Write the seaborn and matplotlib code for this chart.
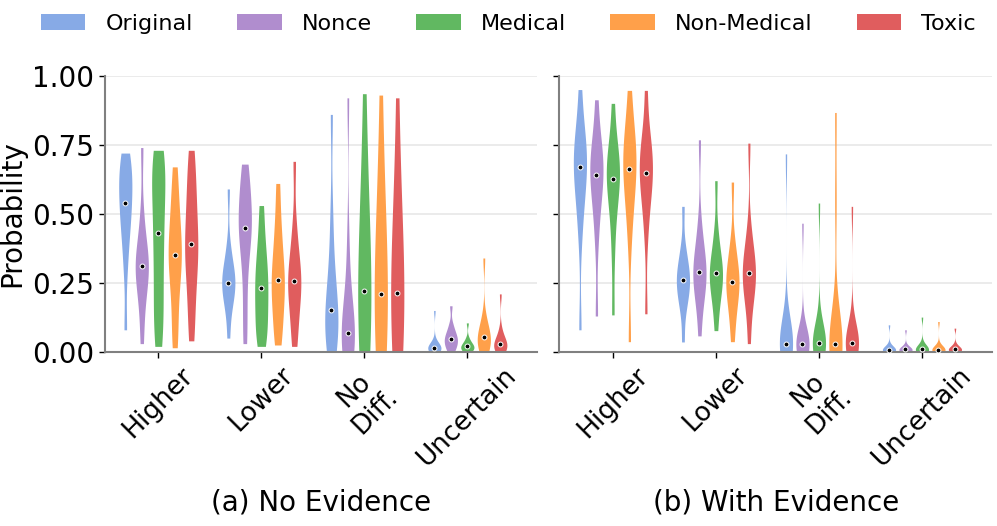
import numpy as np
import pandas as pd
import matplotlib
matplotlib.use("Agg")
import matplotlib.pyplot as plt
import seaborn as sns

groups = ["Original", "Nonce", "Medical", "Non-Medical", "Toxic"]
categories = ["Higher", "Lower", "No\nDiff.", "Uncertain"]
colors = ["#87aae6", "#b08dce", "#61b861", "#ffa04a", "#e05d5e"]

# estimated quantiles (0%, 10%, ..., 100%)
# (a) No Evidence
a_higher = [
    [0.08, 0.30, 0.40, 0.46, 0.50, 0.54, 0.58, 0.62, 0.65, 0.68, 0.72],
    [0.03, 0.14, 0.22, 0.26, 0.29, 0.31, 0.33, 0.36, 0.40, 0.50, 0.74],
    [0.02, 0.10, 0.18, 0.27, 0.36, 0.43, 0.51, 0.58, 0.64, 0.69, 0.73],
    [0.015, 0.10, 0.20, 0.27, 0.32, 0.35, 0.39, 0.44, 0.50, 0.57, 0.67],
    [0.04, 0.14, 0.23, 0.30, 0.35, 0.39, 0.44, 0.50, 0.57, 0.64, 0.73],
]
a_lower = [
    [0.05, 0.15, 0.19, 0.22, 0.24, 0.25, 0.27, 0.29, 0.32, 0.38, 0.59],
    [0.03, 0.15, 0.28, 0.37, 0.42, 0.45, 0.48, 0.52, 0.57, 0.62, 0.68],
    [0.02, 0.06, 0.10, 0.15, 0.19, 0.23, 0.27, 0.31, 0.36, 0.43, 0.53],
    [0.025, 0.08, 0.14, 0.19, 0.23, 0.26, 0.30, 0.35, 0.41, 0.49, 0.61],
    [0.02, 0.08, 0.15, 0.20, 0.23, 0.255, 0.28, 0.32, 0.37, 0.46, 0.69],
]
a_nodiff = [
    [0.0, 0.03, 0.06, 0.09, 0.12, 0.15, 0.19, 0.25, 0.34, 0.50, 0.86],
    [0.0, 0.01, 0.02, 0.04, 0.055, 0.07, 0.10, 0.15, 0.23, 0.40, 0.92],
    [0.0, 0.04, 0.08, 0.12, 0.17, 0.22, 0.29, 0.38, 0.50, 0.66, 0.935],
    [0.0, 0.04, 0.08, 0.12, 0.16, 0.21, 0.28, 0.37, 0.49, 0.65, 0.93],
    [0.0, 0.04, 0.08, 0.12, 0.17, 0.215, 0.28, 0.36, 0.47, 0.63, 0.92],
]
a_uncertain = [
    [0.0, 0.005, 0.008, 0.011, 0.013, 0.015, 0.017, 0.02, 0.025, 0.04, 0.15],
    [0.0, 0.012, 0.022, 0.032, 0.04, 0.047, 0.055, 0.065, 0.078, 0.10, 0.167],
    [0.0, 0.005, 0.009, 0.013, 0.017, 0.02, 0.024, 0.029, 0.036, 0.05, 0.105],
    [0.0, 0.01, 0.02, 0.03, 0.043, 0.053, 0.064, 0.077, 0.095, 0.13, 0.34],
    [0.0, 0.006, 0.012, 0.017, 0.023, 0.028, 0.034, 0.042, 0.054, 0.08, 0.21],
]
# (b) With Evidence
b_higher = [
    [0.08, 0.42, 0.53, 0.59, 0.63, 0.668, 0.70, 0.73, 0.76, 0.81, 0.95],
    [0.13, 0.40, 0.51, 0.57, 0.61, 0.642, 0.67, 0.70, 0.73, 0.78, 0.913],
    [0.134, 0.35, 0.48, 0.55, 0.60, 0.627, 0.655, 0.68, 0.71, 0.76, 0.90],
    [0.037, 0.40, 0.52, 0.58, 0.63, 0.664, 0.70, 0.73, 0.77, 0.82, 0.947],
    [0.138, 0.42, 0.53, 0.58, 0.62, 0.649, 0.68, 0.71, 0.74, 0.79, 0.947],
]
b_lower = [
    [0.036, 0.15, 0.19, 0.22, 0.24, 0.26, 0.28, 0.30, 0.33, 0.38, 0.527],
    [0.058, 0.17, 0.22, 0.25, 0.27, 0.29, 0.31, 0.34, 0.38, 0.46, 0.768],
    [0.077, 0.16, 0.21, 0.24, 0.265, 0.284, 0.305, 0.33, 0.37, 0.44, 0.62],
    [0.037, 0.12, 0.17, 0.21, 0.235, 0.254, 0.275, 0.30, 0.34, 0.40, 0.615],
    [0.03, 0.15, 0.21, 0.245, 0.265, 0.284, 0.305, 0.33, 0.37, 0.44, 0.756],
]
b_nodiff = [
    [0.0, 0.005, 0.01, 0.017, 0.024, 0.03, 0.037, 0.046, 0.06, 0.09, 0.717],
    [0.0, 0.005, 0.01, 0.016, 0.022, 0.028, 0.035, 0.044, 0.057, 0.085, 0.466],
    [0.0, 0.005, 0.01, 0.017, 0.024, 0.031, 0.039, 0.05, 0.066, 0.10, 0.539],
    [0.0, 0.005, 0.01, 0.017, 0.024, 0.03, 0.038, 0.05, 0.07, 0.54, 0.867],
    [0.0, 0.006, 0.012, 0.018, 0.025, 0.032, 0.04, 0.05, 0.067, 0.10, 0.527],
]
b_uncertain = [
    [0.0, 0.002, 0.004, 0.005, 0.007, 0.008, 0.010, 0.012, 0.016, 0.025, 0.098],
    [0.0, 0.002, 0.004, 0.006, 0.008, 0.009, 0.011, 0.013, 0.017, 0.025, 0.08],
    [0.0, 0.002, 0.004, 0.006, 0.008, 0.009, 0.011, 0.014, 0.019, 0.03, 0.126],
    [0.0, 0.002, 0.004, 0.005, 0.007, 0.008, 0.010, 0.012, 0.016, 0.026, 0.11],
    [0.0, 0.002, 0.004, 0.006, 0.008, 0.010, 0.012, 0.014, 0.018, 0.027, 0.086],
]

# violins that look much smoother (wide all the way up) in the original
smooth_violins = [("No\nDiff.", "Medical"), ("No\nDiff.", "Non-Medical"),
                  ("No\nDiff.", "Toxic")]


def to_long(panel):
    rows = []
    for cat, per_group in zip(categories, panel):
        for grp, vals in zip(groups, per_group):
            for v in vals:
                rows.append((cat, grp, v))
    return pd.DataFrame(rows, columns=["category", "group", "prob"])


df_a = to_long([a_higher, a_lower, a_nodiff, a_uncertain])
df_b = to_long([b_higher, b_lower, b_nodiff, b_uncertain])

sns.set_style("ticks")
plt.rcParams["font.family"] = ["DejaVu Sans"]
plt.rcParams["text.color"] = "black"
plt.rcParams["axes.labelcolor"] = "black"
plt.rcParams["xtick.color"] = "black"
plt.rcParams["ytick.color"] = "black"

fig = plt.figure(figsize=(9.97, 5.26), dpi=100)
ax_a = fig.add_axes([0.105, 0.331, 0.434, 0.525])
ax_b = fig.add_axes([0.561, 0.331, 0.434, 0.525], sharey=ax_a)

violin_kws = dict(x="category", y="prob", hue="group", order=categories,
                  hue_order=groups, palette=colors, saturation=1, cut=0,
                  inner=None, density_norm="width", gap=0.2, linewidth=0)

for ax, df, title, smooth in [(ax_a, df_a, "(a) No Evidence", smooth_violins),
                              (ax_b, df_b, "(b) With Evidence", [])]:
    ax.yaxis.grid(True, color="#e8e8e8", linewidth=1.2, zorder=0)
    ax.set_axisbelow(True)
    is_smooth = pd.Series([(c, g) in smooth for c, g in zip(df["category"], df["group"])],
                          index=df.index)
    sns.violinplot(data=df[~is_smooth], bw_adjust=0.7, ax=ax,
                   legend=(ax is ax_a), **violin_kws)
    if is_smooth.any():
        sns.violinplot(data=df[is_smooth], bw_adjust=1.6, ax=ax,
                       legend=False, **violin_kws)
    med = df.groupby(["category", "group"], sort=False)["prob"].median().reset_index()
    sns.stripplot(data=med, x="category", y="prob", hue="group",
                  order=categories, hue_order=groups,
                  palette=["black"] * len(groups), dodge=True, jitter=False,
                  size=3.5, edgecolor="white", linewidth=0.7, legend=False,
                  zorder=5, ax=ax)
    ax.set_xlabel(title, fontsize=20, labelpad=12)
    ax.set_ylabel("")
    ax.tick_params(axis="x", labelsize=19, rotation=45, length=4, width=1)
    ax.tick_params(axis="y", labelsize=20, length=4, width=1)
    ax.set_xlim(-0.52, 3.68)
    for s in ["left", "bottom"]:
        ax.spines[s].set_color("#808080")
        ax.spines[s].set_linewidth(1.5)
    sns.despine(ax=ax)

ax_a.set_ylim(0, 1)
ax_a.set_yticks([0, 0.25, 0.5, 0.75, 1.0])
ax_a.set_yticklabels(["0.00", "0.25", "0.50", "0.75", "1.00"])
ax_a.set_ylabel("Probability", fontsize=20)
ax_b.tick_params(axis="y", labelleft=False)

handles, labels = ax_a.get_legend_handles_labels()
ax_a.get_legend().remove()
fig.legend(handles, labels, loc="upper center", ncol=5, frameon=False,
           fontsize=16, bbox_to_anchor=(0.51, 1.012), handlelength=2.0,
           handletextpad=0.9, columnspacing=2.0)

fig.savefig("out.png", dpi=100)
